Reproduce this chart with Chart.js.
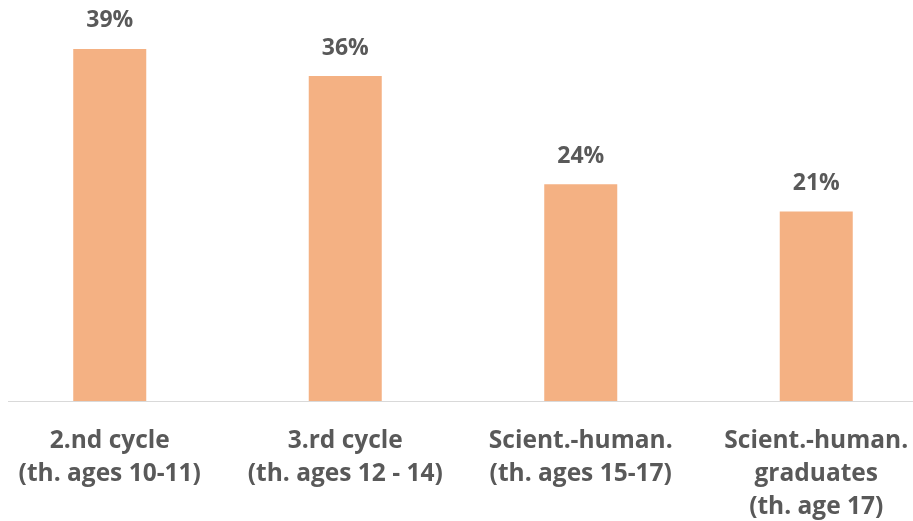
<!DOCTYPE html>
<html>
<head>
<meta charset="utf-8">
<script src="https://cdn.jsdelivr.net/npm/chart.js@4"></script>
<style>
  html, body { margin: 0; padding: 0; background: #fff; overflow: hidden; }
  #wrap { position: absolute; left: -8px; top: 0; width: 942px; height: 521px; }
</style>
</head>
<body>
<div id="wrap"><canvas id="chartShare"></canvas></div>
<script>
var categories = [
    ["2.nd cycle", "(th. ages 10-11)"],
    ["3.rd cycle", "(th. ages 12 - 14)"],
    ["Scient.-human.", "(th. ages 15-17)"],
    ["Scient.-human.", "graduates", "(th. age 17)"]
];
var shares = [39, 36, 24, 21];
var shareLabels = ["39%", "36%", "24%", "21%"];

var textColor = "#595959";

// value labels above each bar, plus the baseline
var barLabels = {
    id: 'barLabels',
    afterDatasetsDraw: function (chart) {
        var c = chart.ctx;
        var meta = chart.getDatasetMeta(0);
        c.save();
        c.font = "bold 23px 'Open Sans'";
        c.fillStyle = textColor;
        c.textAlign = "center";
        c.textBaseline = "middle";
        meta.data.forEach(function (bar, i) {
            c.fillText(shareLabels[i], bar.x, bar.y - 28);
        });
        var y0 = Math.round(chart.scales.y.getPixelForValue(0)) + 0.5;
        c.strokeStyle = "#D9D9D9";
        c.lineWidth = 1;
        c.beginPath();
        c.moveTo(chart.chartArea.left + 16, y0);
        c.lineTo(chart.width, y0);
        c.stroke();
        c.restore();
    }
};

var ctx = document.getElementById("chartShare");
var myChart = new Chart(ctx, {
    type: 'bar',
    data: {
        labels: categories,
        datasets: [{
            data: shares,
            backgroundColor: "#F4B183",
            borderWidth: 0,
            categoryPercentage: 1,
            barPercentage: 0.31
        }]
    },
    options: {
        responsive: true,
        maintainAspectRatio: false,
        animation: false,
        layout: { padding: { top: 2, left: 0, right: 0, bottom: 0 } },
        plugins: {
            legend: { display: false },
            tooltip: { enabled: false }
        },
        scales: {
            x: {
                grid: { display: false, drawTicks: false },
                border: { display: false },
                afterFit: function (scale) { scale.height = 120; },
                ticks: {
                    color: textColor,
                    padding: 24,
                    maxRotation: 0,
                    autoSkip: false,
                    font: { family: "'Open Sans'", weight: "bold", size: 24.5, lineHeight: 1.34 }
                }
            },
            y: {
                display: false,
                min: 0,
                max: 44.2
            }
        }
    },
    plugins: [barLabels]
});
</script>
</body>
</html>
